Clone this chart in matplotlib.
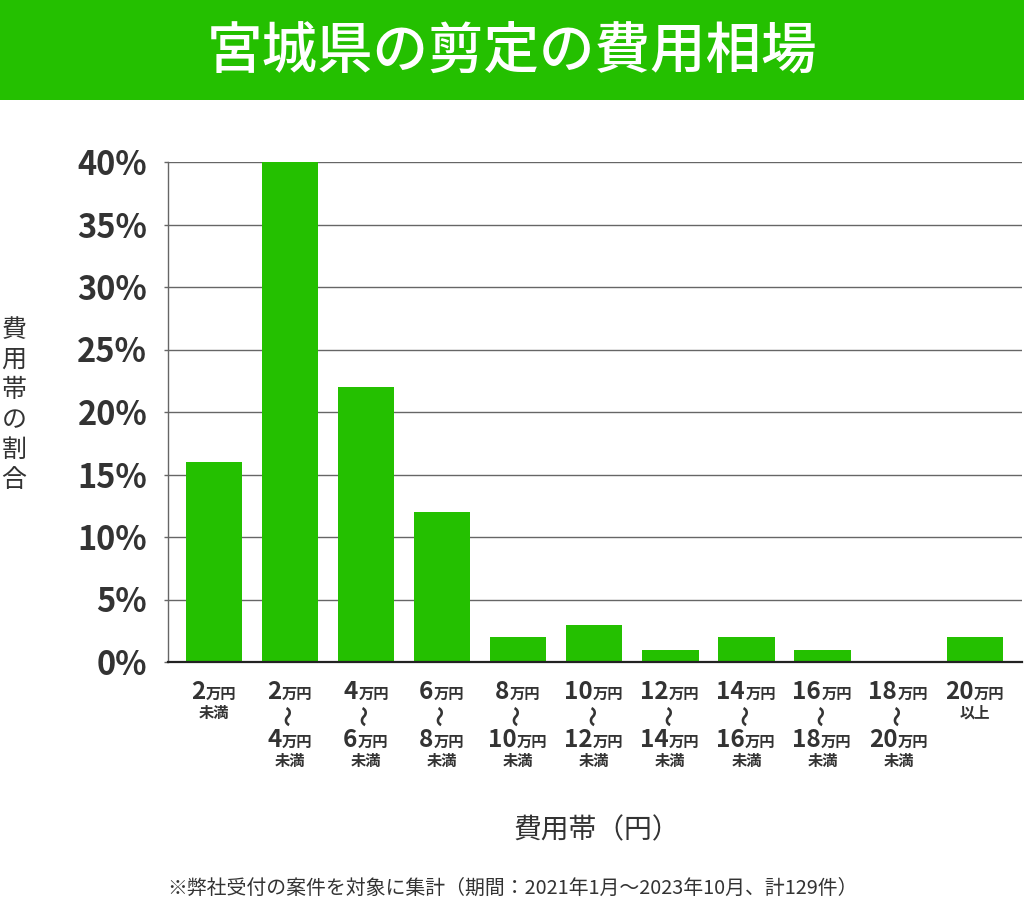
import matplotlib
matplotlib.use("Agg")
import matplotlib.pyplot as plt
from matplotlib.patches import Rectangle
from matplotlib.textpath import TextPath
from matplotlib.font_manager import FontProperties
import matplotlib.transforms as mtransforms

plt.rcParams['font.family'] = ['Noto Sans CJK JP', 'DejaVu Sans']

title = "宮城県の剪定の費用相場"
ylabel = "費用帯の割合"
xlabel = "費用帯（円）"
note = "※弊社受付の案件を対象に集計（期間：2021年1月～2023年10月、計129件）"

lower = ["2", "2", "4", "6", "8", "10", "12", "14", "16", "18", "20"]
upper = [None, "4", "6", "8", "10", "12", "14", "16", "18", "20", None]
values = [16, 40, 22, 12, 2, 3, 1, 2, 1, 0, 2]
yticks = [0, 5, 10, 15, 20, 25, 30, 35, 40]

GREEN = "#24C000"
DARK = "#333333"
W, H = 1024, 907

fig = plt.figure(figsize=(W / 100, H / 100), dpi=100)
fig.patch.set_facecolor("white")

# banner
fig.patches.append(Rectangle((0, 1 - 100 / H), 1, 100 / H, transform=fig.transFigure,
                             facecolor=GREEN, edgecolor="none", zorder=0))
fig.text(0.5, 1 - 52 / H, title, color="white", fontsize=40, fontweight="medium",
         ha="center", va="center")

ax = fig.add_axes([168 / W, 1 - 662 / H, (1022 - 168) / W, 500 / H])
x = list(range(len(values)))
ax.bar(x, values, width=0.74, color=GREEN, zorder=2)
ax.set_xlim(-0.6, 10.62)
ax.set_ylim(0, 40)
ax.set_yticks(yticks)
ax.set_yticklabels([f"{v}%" for v in yticks], fontsize=23.5, fontweight="bold", color=DARK)
ax.yaxis.grid(True, color="#666666", linewidth=1, zorder=1)
ax.set_axisbelow(True)
ax.set_xticks([])
for s in ["top", "right"]:
    ax.spines[s].set_visible(False)
ax.spines["left"].set_color("#666666")
ax.spines["left"].set_linewidth(1)
ax.spines["bottom"].set_color("#222222")
ax.spines["bottom"].set_linewidth(1.6)
ax.tick_params(axis="y", length=3, width=1, color="#666666", pad=12)

big = FontProperties(family="Noto Sans CJK JP", weight="bold", size=17.5)
small = FontProperties(family="Noto Sans CJK JP", weight="bold", size=11)
wave = FontProperties(family="Noto Sans CJK JP", weight="bold", size=15)


def width_pt(s, fp):
    tp = TextPath((0, 0), s, prop=fp, size=fp.get_size_in_points())
    return tp.get_extents().width


def amount(xc, ypix, num):
    wn = width_pt(num, big) + 0.5
    wu = width_pt("万円", small) + 0.5
    junction = (wn - wu) / 2.0
    trans = mtransforms.blended_transform_factory(ax.transData, fig.transFigure)
    yf = 1 - ypix / H
    ax.annotate(num, xy=(xc, yf), xycoords=trans, xytext=(junction, 0),
                textcoords="offset points", ha="right", va="baseline",
                fontproperties=big, color=DARK, annotation_clip=False)
    ax.annotate("万円", xy=(xc, yf), xycoords=trans, xytext=(junction + 0.3, 0),
                textcoords="offset points", ha="left", va="baseline",
                fontproperties=small, color=DARK, annotation_clip=False)


def small_text(xc, ypix, s, fp=small, rot=0):
    trans = mtransforms.blended_transform_factory(ax.transData, fig.transFigure)
    ax.text(xc, 1 - ypix / H, s, transform=trans, ha="center", va="center",
            fontproperties=fp, color=DARK, rotation=rot, clip_on=False)


for i in x:
    amount(i, 699, lower[i])
    if upper[i] is None:
        small_text(i, 713, "未満" if i == 0 else "以上")
    else:
        small_text(i, 716, "～", fp=wave, rot=90)
        amount(i, 747, upper[i])
        small_text(i, 761, "未満")

fig.text(14 / W, 1 - 405 / H, "\n".join(ylabel), fontsize=18, color=DARK,
         ha="center", va="center", linespacing=1.2)
fig.text(597 / W, 1 - 830 / H, xlabel, fontsize=20, color=DARK, ha="center", va="center")
fig.text(512 / W, 1 - 888 / H, note, fontsize=14.3, color=DARK, ha="center", va="center")

fig.savefig("out.png", dpi=100, facecolor="white")
